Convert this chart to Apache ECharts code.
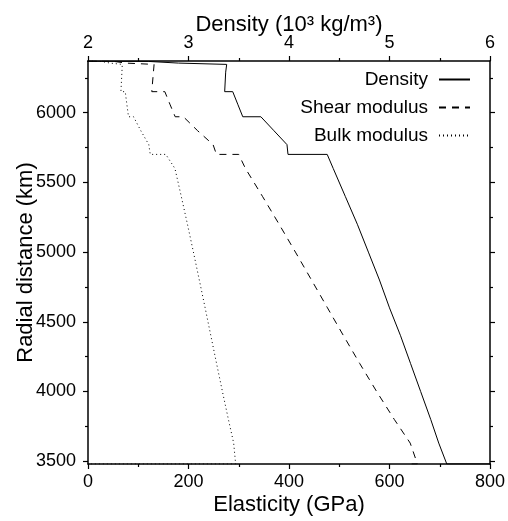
<!DOCTYPE html>
<html><head><meta charset="utf-8">
<script src="https://cdn.jsdelivr.net/npm/echarts@6/dist/echarts.min.js"></script>
<style>html,body{margin:0;padding:0;background:#fff}#c{width:508px;height:521px}</style>
</head><body><div id="c"></div>
<script>
// Radial distance (km) of each sample; repeated radii mark discontinuities
const radius = [6371, 6368, 6368, 6356, 6356, 6346.6, 6346.6, 6291, 6151, 6151, 6061, 5971, 5971, 5871, 5771, 5701, 5701, 5600, 5400, 5200, 5000, 4800, 4600, 4400, 4200, 4000, 3800, 3630, 3480, 3480];
// Density (10^3 kg/m^3)
const density = [1.02, 1.02, 2.60, 2.60, 2.90, 2.90, 3.38, 3.37, 3.36, 3.44, 3.49, 3.54, 3.72, 3.85, 3.98, 3.99, 4.38, 4.44, 4.56, 4.68, 4.79, 4.90, 5.00, 5.11, 5.21, 5.31, 5.41, 5.49, 5.57, 9.90];
// "Shear modulus" curve (GPa), dashed
const shearModulus = [2.1, 2.1, 52.0, 52.0, 75.3, 75.3, 131.5, 130.2, 126.9, 152.9, 163.0, 173.5, 189.8, 218.1, 248.9, 255.6, 299.9, 313.3, 347.2, 380.3, 412.8, 444.8, 476.6, 508.5, 540.9, 574.4, 609.5, 641.2, 655.6, 644.1];
// "Bulk modulus" curve (GPa), dotted
const bulkModulus = [0, 0, 26.6, 26.6, 44.1, 44.1, 68.2, 67.5, 65.5, 74.1, 77.3, 80.6, 90.6, 105.1, 121.0, 123.9, 154.8, 173.0, 185.6, 197.9, 209.8, 221.5, 233.1, 244.5, 255.9, 267.5, 279.4, 289.9, 293.8, 0];

const seriesNames = ['Density', 'Shear modulus', 'Bulk modulus'];
const elasticityTicks = [0, 200, 400, 600, 800];
const densityTicks = [2, 3, 4, 5, 6];
const radiusTicks = [3500, 4000, 4500, 5000, 5500, 6000];
const radiusMinorTicks = [3750, 4250, 4750, 5250, 5750, 6250];
const radiusRange = [3480, 6371];

const FONT = 'Liberation Sans';
const lineCol = '#000';
const axLine = {show: true, lineStyle: {color: lineCol, width: 1.5}};
const tickStyle = {color: lineCol, width: 1.2};
const labelStyle = {color: '#000', fontSize: 18, fontFamily: FONT};
const nameStyle = {color: '#000', fontSize: 22, fontFamily: FONT};

function pairs(xs) { return xs.map((v, i) => [v, radius[i]]); }

function yAxisDef(pos, values, len, showLine, showLabel, withName) {
  const a = {
    type: 'value', position: pos, offset: 0, min: radiusRange[0], max: radiusRange[1],
    axisLine: showLine ? axLine : {show: false},
    axisTick: {show: true, length: len, lineStyle: tickStyle, customValues: values},
    axisLabel: showLabel ? Object.assign({margin: 12, customValues: values, formatter: v => String(v)}, labelStyle) : {show: false},
    splitLine: {show: false}
  };
  if (withName) {
    a.name = 'Radial distance (km)';
    a.nameLocation = 'middle';
    a.nameRotate = 90;
    a.nameGap = 51;
    a.nameMoveOverlap = false;
    a.nameTextStyle = nameStyle;
  }
  return a;
}

const option = {
  animation: false,
  backgroundColor: '#fff',
  grid: {left: 88, right: 18, top: 61, bottom: 57, containLabel: false, outerBoundsMode: 'none'},
  xAxis: [
    {
      type: 'value', position: 'bottom',
      min: elasticityTicks[0], max: elasticityTicks[elasticityTicks.length - 1],
      interval: elasticityTicks[1] - elasticityTicks[0],
      axisLine: axLine,
      axisTick: {show: true, length: 5, lineStyle: tickStyle},
      minorTick: {show: true, splitNumber: 2, length: 3, lineStyle: tickStyle},
      axisLabel: Object.assign({margin: 9, formatter: v => String(v)}, labelStyle),
      splitLine: {show: false},
      name: 'Elasticity (GPa)', nameLocation: 'middle', nameGap: 30, nameMoveOverlap: false, nameTextStyle: nameStyle
    },
    {
      type: 'value', position: 'top',
      min: densityTicks[0], max: densityTicks[densityTicks.length - 1],
      interval: densityTicks[1] - densityTicks[0],
      axisLine: axLine,
      axisTick: {show: true, length: 5, lineStyle: tickStyle},
      minorTick: {show: true, splitNumber: 2, length: 3, lineStyle: tickStyle},
      axisLabel: Object.assign({margin: 9, formatter: v => String(v)}, labelStyle),
      splitLine: {show: false},
      name: 'Density (10³ kg/m³)', nameLocation: 'middle', nameGap: 25, nameMoveOverlap: false, nameTextStyle: nameStyle
    }
  ],
  yAxis: [
    yAxisDef('left', radiusTicks, 5, true, true, true),
    yAxisDef('left', radiusMinorTicks, 3, false, false, false),
    yAxisDef('right', radiusTicks, 5, true, false, false),
    yAxisDef('right', radiusMinorTicks, 3, false, false, false)
  ],
  legend: seriesNames.map((n, i) => ({
    data: [n], right: 37, top: 70 + 28 * i, orient: 'horizontal', align: 'right',
    itemWidth: 31, itemHeight: 14, padding: 0, selectedMode: false,
    itemStyle: {opacity: 0},
    lineStyle: {color: lineCol, opacity: 1},
    textStyle: {color: '#000', fontSize: 19, fontFamily: FONT, padding: [0, 6, 0, 0]}
  })),
  series: [
    {
      name: seriesNames[0], type: 'line', xAxisIndex: 1, yAxisIndex: 0,
      data: pairs(density), symbol: 'none', clip: true,
      lineStyle: {color: lineCol, width: 1, type: 'solid'}, itemStyle: {color: lineCol}
    },
    {
      name: seriesNames[1], type: 'line', xAxisIndex: 0, yAxisIndex: 0,
      data: pairs(shearModulus), symbol: 'none', clip: true,
      lineStyle: {color: lineCol, width: 1, type: [7, 6]}, itemStyle: {color: lineCol}
    },
    {
      name: seriesNames[2], type: 'line', xAxisIndex: 0, yAxisIndex: 0,
      data: pairs(bulkModulus), symbol: 'none', clip: true,
      lineStyle: {color: lineCol, width: 1, type: [1, 3]}, itemStyle: {color: lineCol}
    }
  ]
};

const chart = echarts.init(document.getElementById('c'), null, {renderer: 'canvas'});
chart.setOption(option);
</script>
</body></html>
